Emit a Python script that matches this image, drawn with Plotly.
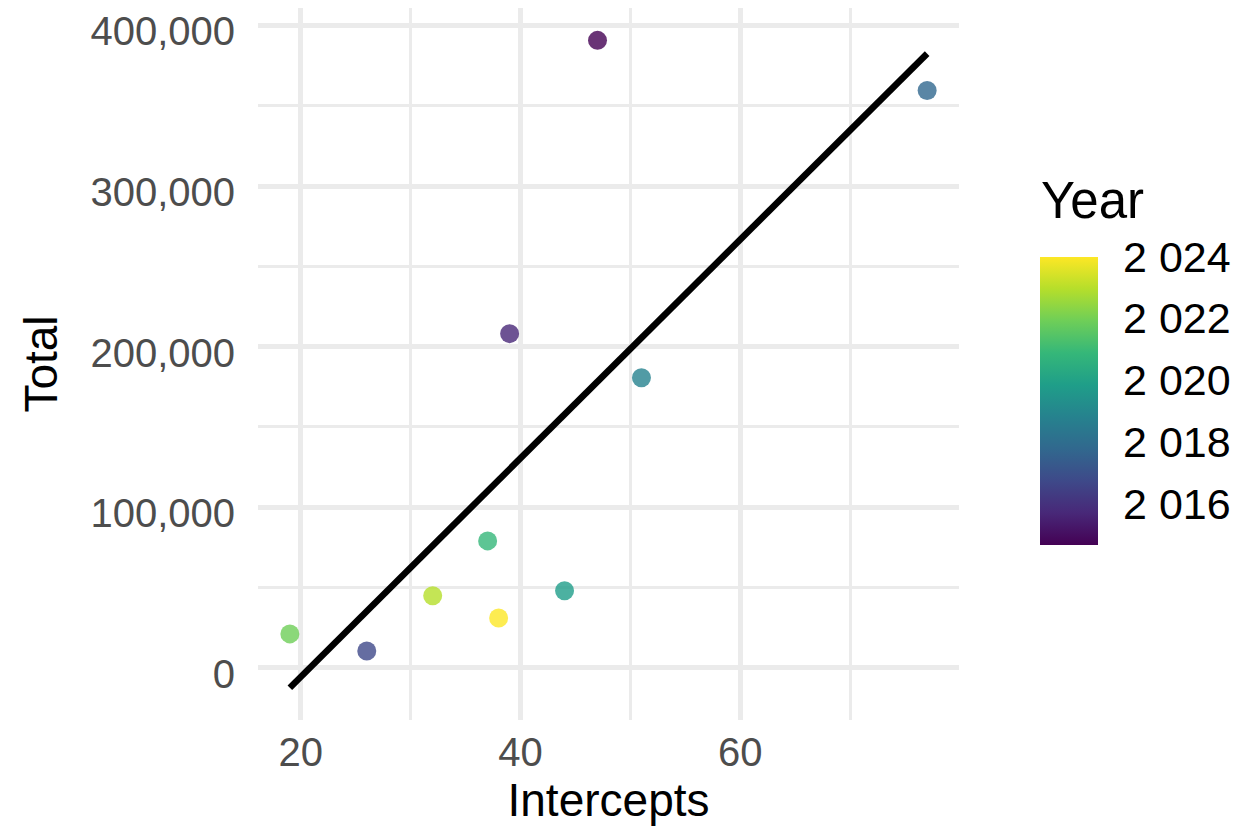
import numpy as np
import plotly.graph_objects as go

# Data
years = [2015, 2016, 2017, 2018, 2019, 2020, 2021, 2022, 2023, 2024]
intercepts = [47, 39, 26, 77, 51, 44, 37, 19, 32, 38]
totals = [390650, 208100, 10600, 359500, 180700, 48000, 79100, 21200, 44900, 31150]

year_tickvals = [2016, 2018, 2020, 2022, 2024]
year_ticktext = ["2 016", "2 018", "2 020", "2 022", "2 024"]

x_tickvals = [20, 40, 60]
x_minorvals = [30, 50, 70]
y_tickvals = [0, 100000, 200000, 300000, 400000]
y_minorvals = [-50000, 50000, 150000, 250000, 350000]

FONT = "Liberation Sans, Arial, Helvetica, sans-serif"
GRID = "#EBEBEB"

# colour-bar drawing extent (guide geometry, matched to the reference guide)
CB_LO, CB_HI = 2014.685, 2024.0

# linear fit (geom_smooth method = lm)
xs = np.array(intercepts, dtype=float)
ys = np.array(totals, dtype=float)
slope, icpt = np.polyfit(xs, ys, 1)
fit_x = np.array([xs.min(), xs.max()])
fit_y = icpt + slope * fit_x

fig = go.Figure()

fig.add_trace(go.Scatter(
    x=intercepts, y=totals, mode="markers",
    marker=dict(
        size=19, color=years, colorscale="Viridis", cmin=min(years), cmax=max(years),
        opacity=0.8, line=dict(width=0), showscale=False,
    ),
    showlegend=False, hoverinfo="skip",
))

# colour guide
fig.add_trace(go.Scatter(
    x=[None], y=[None], mode="markers",
    marker=dict(
        color=[CB_LO], colorscale="Viridis", cmin=CB_LO, cmax=CB_HI, showscale=True,
        colorbar=dict(
            tickvals=year_tickvals, ticktext=year_ticktext,
            tickfont=dict(size=43, color="black", family=FONT),
            ticks="outside", ticklen=17, tickcolor="rgba(0,0,0,0)",
            thickness=58, len=288.4, lenmode="pixels",
            x=1.114, xanchor="left", y=0.4487, yanchor="middle",
            xpad=0, ypad=0, outlinewidth=0,
        ),
    ),
    showlegend=False, hoverinfo="skip",
))

fig.add_trace(go.Scatter(
    x=fit_x, y=fit_y, mode="lines",
    line=dict(color="black", width=6.5),
    showlegend=False, hoverinfo="skip",
))

fig.add_annotation(
    text="Year", xref="paper", yref="paper", x=1.114, y=0.7303,
    xanchor="left", yanchor="middle", showarrow=False,
    font=dict(size=51, color="black", family=FONT),
)

fig.update_layout(
    width=1238, height=834,
    margin=dict(l=258, r=278, t=8, b=114),
    paper_bgcolor="white", plot_bgcolor="white",
    font=dict(family=FONT),
)

fig.update_xaxes(
    range=[16.1, 79.9], tickvals=x_tickvals,
    showgrid=True, gridcolor=GRID, gridwidth=5,
    minor=dict(showgrid=True, gridcolor=GRID, gridwidth=2.5, tickvals=x_minorvals),
    zeroline=False, showline=False, ticks="",
    tickfont=dict(size=40, color="#4D4D4D", family=FONT),
    ticklabelstandoff=5,
    title=dict(text="Intercepts", font=dict(size=46, color="black", family=FONT), standoff=8),
    automargin=False,
)
fig.update_yaxes(
    range=[-32400, 410800], tickvals=y_tickvals, tickformat=",d",
    showgrid=True, gridcolor=GRID, gridwidth=5,
    minor=dict(showgrid=True, gridcolor=GRID, gridwidth=2.5, tickvals=y_minorvals),
    zeroline=False, showline=False, ticks="",
    tickfont=dict(size=40, color="#4D4D4D", family=FONT),
    ticklabelstandoff=22, ticklabelshift=6, ticklabeloverflow="allow",
    title=dict(text="Total", font=dict(size=46, color="black", family=FONT), standoff=18),
    automargin=False,
)

fig.write_html("out.html", config={"displayModeBar": False},
               post_script="document.body.style.margin='0';")
